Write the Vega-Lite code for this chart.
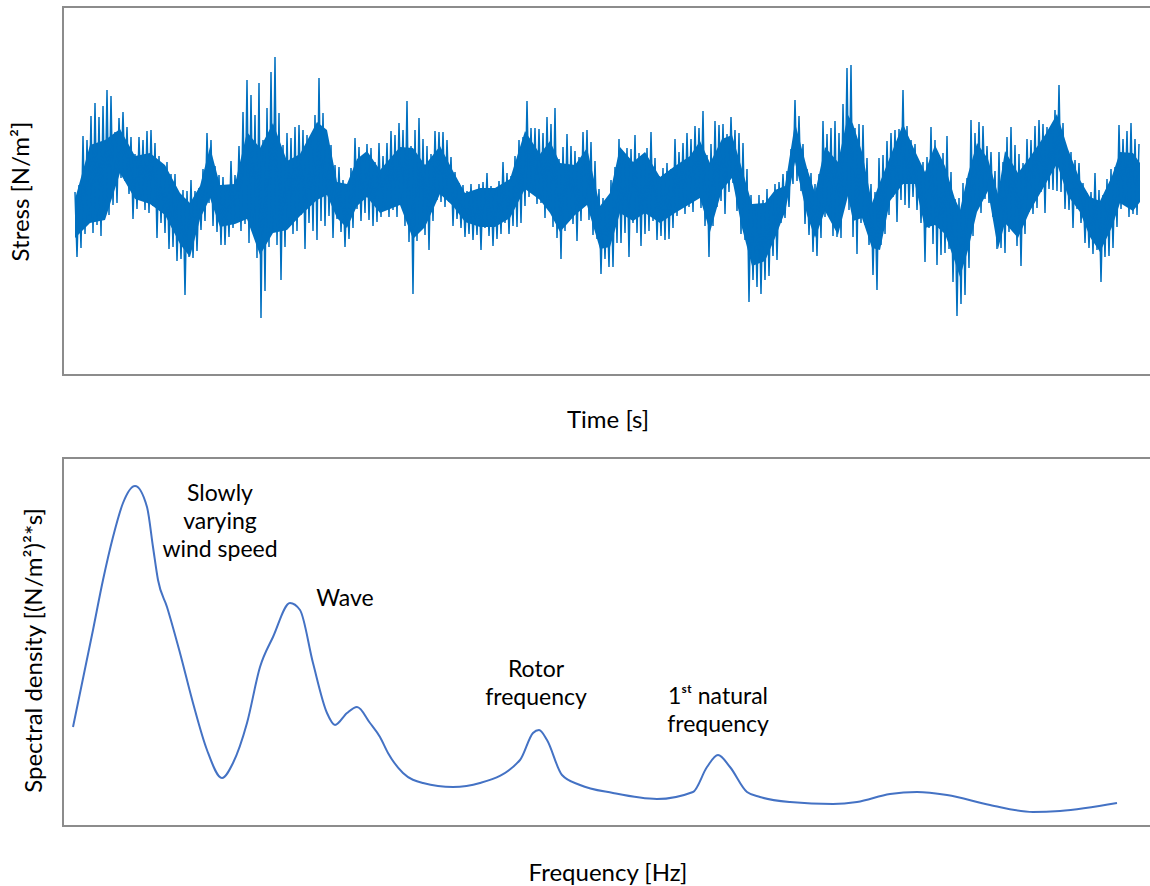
{
  "$schema": "https://vega.github.io/schema/vega-lite/v6.json",
  "padding": {"left": 8, "top": 6, "right": 0, "bottom": 0},
  "background": "white",
  "spacing": 24,
  "config": {
    "view": {"stroke": "#8c8c8c", "strokeWidth": 2},
    "axis": {"labels": false, "ticks": false, "domain": false, "grid": false, "titleFont": "Lato", "titleFontSize": 24, "titleFontWeight": "normal", "titleColor": "#000000"}
  },
  "datasets": {
    "stress": [
      {"t":12,"s":-2},{"t":14,"s":-67},{"t":16,"s":5},{"t":18,"s":-58},{"t":20,"s":54},{"t":22,"s":-44},{"t":24,"s":50},{"t":26,"s":-30},{"t":28,"s":74},{"t":30,"s":-43},
      {"t":32,"s":87},{"t":34,"s":-35},{"t":36,"s":73},{"t":38,"s":-46},{"t":40,"s":84},{"t":42,"s":-23},{"t":44,"s":100},{"t":46,"s":-25},{"t":48,"s":94},{"t":50,"s":-15},
      {"t":52,"s":58},{"t":54,"s":-13},{"t":56,"s":72},{"t":58,"s":12},{"t":60,"s":78},{"t":62,"s":9},{"t":64,"s":63},{"t":66,"s":-4},{"t":68,"s":53},{"t":70,"s":-29},
      {"t":72,"s":36},{"t":74,"s":-19},{"t":76,"s":53},{"t":78,"s":-10},{"t":80,"s":50},{"t":82,"s":-20},{"t":84,"s":59},{"t":86,"s":-23},{"t":88,"s":60},{"t":90,"s":-16},
      {"t":92,"s":47},{"t":94,"s":-48},{"t":96,"s":34},{"t":98,"s":-33},{"t":100,"s":24},{"t":102,"s":-43},{"t":104,"s":28},{"t":106,"s":-59},{"t":108,"s":16},{"t":110,"s":-57},
      {"t":112,"s":16},{"t":114,"s":-71},{"t":116,"s":-5},{"t":118,"s":-69},{"t":120,"s":0},{"t":122,"s":-105},{"t":124,"s":-1},{"t":126,"s":-67},{"t":128,"s":10},{"t":130,"s":-68},
      {"t":132,"s":-1},{"t":134,"s":-61},{"t":136,"s":2},{"t":138,"s":-40},{"t":140,"s":21},{"t":142,"s":-31},{"t":144,"s":57},{"t":146,"s":-13},{"t":148,"s":50},{"t":150,"s":-36},
      {"t":152,"s":24},{"t":154,"s":-42},{"t":156,"s":15},{"t":158,"s":-55},{"t":160,"s":13},{"t":162,"s":-55},{"t":164,"s":5},{"t":166,"s":-47},{"t":168,"s":29},{"t":170,"s":-38},
      {"t":172,"s":15},{"t":174,"s":-31},{"t":176,"s":44},{"t":178,"s":-41},{"t":180,"s":78},{"t":182,"s":-34},{"t":184,"s":110},{"t":186,"s":-53},{"t":188,"s":95},{"t":190,"s":-38},
      {"t":192,"s":75},{"t":194,"s":-68},{"t":196,"s":107},{"t":198,"s":-128},{"t":200,"s":50},{"t":202,"s":-101},{"t":204,"s":82},{"t":206,"s":-57},{"t":208,"s":118},{"t":210,"s":-40},
      {"t":212,"s":133},{"t":214,"s":-55},{"t":216,"s":77},{"t":218,"s":-90},{"t":220,"s":45},{"t":222,"s":-57},{"t":224,"s":57},{"t":226,"s":-37},{"t":228,"s":52},{"t":230,"s":-44},
      {"t":232,"s":63},{"t":234,"s":-41},{"t":236,"s":65},{"t":238,"s":-25},{"t":240,"s":60},{"t":242,"s":-59},{"t":244,"s":55},{"t":246,"s":-33},{"t":248,"s":53},{"t":250,"s":-41},
      {"t":252,"s":75},{"t":254,"s":-50},{"t":256,"s":112},{"t":258,"s":-31},{"t":260,"s":77},{"t":262,"s":-36},{"t":264,"s":55},{"t":266,"s":-26},{"t":268,"s":45},{"t":270,"s":-48},
      {"t":272,"s":25},{"t":274,"s":-29},{"t":276,"s":23},{"t":278,"s":-42},{"t":280,"s":10},{"t":282,"s":-57},{"t":284,"s":5},{"t":286,"s":-49},{"t":288,"s":22},{"t":290,"s":-38},
      {"t":292,"s":52},{"t":294,"s":-19},{"t":296,"s":43},{"t":298,"s":-31},{"t":300,"s":35},{"t":302,"s":-23},{"t":304,"s":46},{"t":306,"s":-30},{"t":308,"s":42},{"t":310,"s":-36},
      {"t":312,"s":28},{"t":314,"s":-32},{"t":316,"s":47},{"t":318,"s":-27},{"t":320,"s":34},{"t":322,"s":-19},{"t":324,"s":47},{"t":326,"s":-27},{"t":328,"s":59},{"t":330,"s":-20},
      {"t":332,"s":55},{"t":334,"s":-27},{"t":336,"s":67},{"t":338,"s":-13},{"t":340,"s":60},{"t":342,"s":-36},{"t":344,"s":89},{"t":346,"s":-52},{"t":348,"s":44},{"t":350,"s":-104},
      {"t":352,"s":60},{"t":354,"s":-51},{"t":356,"s":72},{"t":358,"s":-40},{"t":360,"s":51},{"t":362,"s":-45},{"t":364,"s":44},{"t":366,"s":-60},{"t":368,"s":36},{"t":370,"s":-31},
      {"t":372,"s":59},{"t":374,"s":-10},{"t":376,"s":58},{"t":378,"s":-12},{"t":380,"s":58},{"t":382,"s":-17},{"t":384,"s":50},{"t":386,"s":-12},{"t":388,"s":33},{"t":390,"s":-36},
      {"t":392,"s":18},{"t":394,"s":-29},{"t":396,"s":7},{"t":398,"s":-38},{"t":400,"s":5},{"t":402,"s":-47},{"t":404,"s":-1},{"t":406,"s":-44},{"t":408,"s":6},{"t":410,"s":-50},
      {"t":412,"s":-3},{"t":414,"s":-45},{"t":416,"s":6},{"t":418,"s":-60},{"t":420,"s":8},{"t":422,"s":-38},{"t":424,"s":17},{"t":426,"s":-46},{"t":428,"s":4},{"t":430,"s":-56},
      {"t":432,"s":1},{"t":434,"s":-49},{"t":436,"s":9},{"t":438,"s":-44},{"t":440,"s":28},{"t":442,"s":-33},{"t":444,"s":17},{"t":446,"s":-44},{"t":448,"s":14},{"t":450,"s":-36},
      {"t":452,"s":34},{"t":454,"s":-37},{"t":456,"s":50},{"t":458,"s":-33},{"t":460,"s":53},{"t":462,"s":-16},{"t":464,"s":89},{"t":466,"s":-7},{"t":468,"s":62},{"t":470,"s":-2},
      {"t":472,"s":62},{"t":474,"s":-14},{"t":476,"s":61},{"t":478,"s":-13},{"t":480,"s":57},{"t":482,"s":-28},{"t":484,"s":73},{"t":486,"s":-16},{"t":488,"s":66},{"t":490,"s":-37},
      {"t":492,"s":82},{"t":494,"s":-48},{"t":496,"s":31},{"t":498,"s":-69},{"t":500,"s":43},{"t":502,"s":-41},{"t":504,"s":56},{"t":506,"s":-31},{"t":508,"s":44},{"t":510,"s":-34},
      {"t":512,"s":39},{"t":514,"s":-51},{"t":516,"s":33},{"t":518,"s":-31},{"t":520,"s":58},{"t":522,"s":-16},{"t":524,"s":60},{"t":526,"s":-30},{"t":528,"s":48},{"t":530,"s":-45},
      {"t":532,"s":29},{"t":534,"s":-49},{"t":536,"s":1},{"t":538,"s":-84},{"t":540,"s":-8},{"t":542,"s":-69},{"t":544,"s":-9},{"t":546,"s":-77},{"t":548,"s":10},{"t":550,"s":-77},
      {"t":552,"s":23},{"t":554,"s":-53},{"t":556,"s":51},{"t":558,"s":-53},{"t":560,"s":35},{"t":562,"s":-43},{"t":564,"s":42},{"t":566,"s":-67},{"t":568,"s":41},{"t":570,"s":-33},
      {"t":572,"s":55},{"t":574,"s":-43},{"t":576,"s":37},{"t":578,"s":-56},{"t":580,"s":35},{"t":582,"s":-44},{"t":584,"s":42},{"t":586,"s":-41},{"t":588,"s":58},{"t":590,"s":-31},
      {"t":592,"s":32},{"t":594,"s":-50},{"t":596,"s":14},{"t":598,"s":-46},{"t":600,"s":22},{"t":602,"s":-50},{"t":604,"s":27},{"t":606,"s":-49},{"t":608,"s":21},{"t":610,"s":-38},
      {"t":612,"s":51},{"t":614,"s":-26},{"t":616,"s":38},{"t":618,"s":-17},{"t":620,"s":47},{"t":622,"s":-24},{"t":624,"s":57},{"t":626,"s":-17},{"t":628,"s":51},{"t":630,"s":-22},
      {"t":632,"s":64},{"t":634,"s":-5},{"t":636,"s":62},{"t":638,"s":-18},{"t":640,"s":79},{"t":642,"s":-36},{"t":644,"s":35},{"t":646,"s":-67},{"t":648,"s":46},{"t":650,"s":-36},
      {"t":652,"s":69},{"t":654,"s":-17},{"t":656,"s":65},{"t":658,"s":-11},{"t":660,"s":66},{"t":662,"s":-24},{"t":664,"s":56},{"t":666,"s":-2},{"t":668,"s":73},{"t":670,"s":7},
      {"t":672,"s":60},{"t":674,"s":-21},{"t":676,"s":57},{"t":678,"s":-44},{"t":680,"s":47},{"t":682,"s":-50},{"t":684,"s":21},{"t":686,"s":-112},{"t":688,"s":-5},{"t":690,"s":-90},
      {"t":692,"s":-17},{"t":694,"s":-97},{"t":696,"s":-5},{"t":698,"s":-104},{"t":700,"s":-10},{"t":702,"s":-90},{"t":704,"s":1},{"t":706,"s":-86},{"t":708,"s":-9},{"t":710,"s":-66},
      {"t":712,"s":6},{"t":714,"s":-70},{"t":716,"s":8},{"t":718,"s":-33},{"t":720,"s":16},{"t":722,"s":-28},{"t":724,"s":19},{"t":726,"s":-17},{"t":728,"s":41},{"t":730,"s":6},
      {"t":732,"s":90},{"t":734,"s":9},{"t":736,"s":74},{"t":738,"s":-1},{"t":740,"s":46},{"t":742,"s":-34},{"t":744,"s":21},{"t":746,"s":-45},{"t":748,"s":17},{"t":750,"s":-62},
      {"t":752,"s":6},{"t":754,"s":-66},{"t":756,"s":16},{"t":758,"s":-48},{"t":760,"s":69},{"t":762,"s":-27},{"t":764,"s":56},{"t":766,"s":-25},{"t":768,"s":62},{"t":770,"s":-46},
      {"t":772,"s":69},{"t":774,"s":-47},{"t":776,"s":57},{"t":778,"s":-48},{"t":780,"s":86},{"t":782,"s":-12},{"t":784,"s":122},{"t":786,"s":-20},{"t":788,"s":125},{"t":790,"s":-47},
      {"t":792,"s":62},{"t":794,"s":-64},{"t":796,"s":66},{"t":798,"s":-33},{"t":800,"s":65},{"t":802,"s":-35},{"t":804,"s":32},{"t":806,"s":-55},{"t":808,"s":6},{"t":810,"s":-85},
      {"t":812,"s":-2},{"t":814,"s":-100},{"t":816,"s":32},{"t":818,"s":-55},{"t":820,"s":35},{"t":822,"s":-44},{"t":824,"s":49},{"t":826,"s":-25},{"t":828,"s":57},{"t":830,"s":-7},
      {"t":832,"s":60},{"t":834,"s":-32},{"t":836,"s":61},{"t":838,"s":-10},{"t":840,"s":100},{"t":842,"s":-15},{"t":844,"s":64},{"t":846,"s":-18},{"t":848,"s":50},{"t":850,"s":-7},
      {"t":852,"s":46},{"t":854,"s":-20},{"t":856,"s":27},{"t":858,"s":-33},{"t":860,"s":28},{"t":862,"s":-72},{"t":864,"s":33},{"t":866,"s":-38},{"t":868,"s":63},{"t":870,"s":-54},
      {"t":872,"s":50},{"t":874,"s":-75},{"t":876,"s":35},{"t":878,"s":-65},{"t":880,"s":37},{"t":882,"s":-63},{"t":884,"s":54},{"t":886,"s":-59},{"t":888,"s":18},{"t":890,"s":-92},
      {"t":892,"s":-9},{"t":894,"s":-126},{"t":896,"s":-8},{"t":898,"s":-114},{"t":900,"s":7},{"t":902,"s":-105},{"t":904,"s":12},{"t":906,"s":-78},{"t":908,"s":70},{"t":910,"s":-46},
      {"t":912,"s":57},{"t":914,"s":-19},{"t":916,"s":68},{"t":918,"s":-23},{"t":920,"s":64},{"t":922,"s":-9},{"t":924,"s":44},{"t":926,"s":-13},{"t":928,"s":38},{"t":930,"s":-27},
      {"t":932,"s":19},{"t":934,"s":-59},{"t":936,"s":38},{"t":938,"s":-58},{"t":940,"s":28},{"t":942,"s":-63},{"t":944,"s":53},{"t":946,"s":-42},{"t":948,"s":63},{"t":950,"s":-41},
      {"t":952,"s":45},{"t":954,"s":-56},{"t":956,"s":36},{"t":958,"s":-76},{"t":960,"s":27},{"t":962,"s":-44},{"t":964,"s":51},{"t":966,"s":-22},{"t":968,"s":50},{"t":970,"s":-24},
      {"t":972,"s":64},{"t":974,"s":-18},{"t":976,"s":70},{"t":978,"s":-2},{"t":980,"s":66},{"t":982,"s":-23},{"t":984,"s":63},{"t":986,"s":1},{"t":988,"s":63},{"t":990,"s":0},
      {"t":992,"s":80},{"t":994,"s":-1},{"t":996,"s":105},{"t":998,"s":-2},{"t":1000,"s":67},{"t":1002,"s":-19},{"t":1004,"s":41},{"t":1006,"s":-20},{"t":1008,"s":38},{"t":1010,"s":-38},
      {"t":1012,"s":30},{"t":1014,"s":-19},{"t":1016,"s":27},{"t":1018,"s":-33},{"t":1020,"s":7},{"t":1022,"s":-53},{"t":1024,"s":-3},{"t":1026,"s":-58},{"t":1028,"s":-2},{"t":1030,"s":-64},
      {"t":1032,"s":17},{"t":1034,"s":-60},{"t":1036,"s":0},{"t":1038,"s":-92},{"t":1040,"s":-5},{"t":1042,"s":-67},{"t":1044,"s":11},{"t":1046,"s":-66},{"t":1048,"s":21},{"t":1050,"s":-58},
      {"t":1052,"s":23},{"t":1054,"s":-37},{"t":1056,"s":65},{"t":1058,"s":-19},{"t":1060,"s":51},{"t":1062,"s":-14},{"t":1064,"s":59},{"t":1066,"s":-27},{"t":1068,"s":67},{"t":1070,"s":-24},
      {"t":1072,"s":51},{"t":1074,"s":-25},{"t":1076,"s":46}
    ],
    "core": [
      {"t":12,"hi":-9,"lo":-48},{"t":27,"hi":45,"lo":-33},{"t":42,"hi":50,"lo":-30},{"t":57,"hi":61,"lo":17},{"t":72,"hi":34,"lo":-9},
      {"t":87,"hi":37,"lo":-14},{"t":102,"hi":25,"lo":-25},{"t":117,"hi":-3,"lo":-54},{"t":127,"hi":-13,"lo":-67},{"t":137,"hi":4,"lo":-29},
      {"t":147,"hi":43,"lo":-8},{"t":157,"hi":5,"lo":-37},{"t":172,"hi":6,"lo":-34},{"t":184,"hi":58,"lo":-29},{"t":197,"hi":42,"lo":-65},
      {"t":210,"hi":67,"lo":-43},{"t":224,"hi":29,"lo":-40},{"t":237,"hi":36,"lo":-26},{"t":254,"hi":68,"lo":-10},{"t":264,"hi":60,"lo":-5},
      {"t":274,"hi":8,"lo":-28},{"t":284,"hi":6,"lo":-38},{"t":294,"hi":31,"lo":-16},{"t":304,"hi":39,"lo":-7},{"t":317,"hi":20,"lo":-23},
      {"t":337,"hi":43,"lo":-15},{"t":350,"hi":42,"lo":-49},{"t":362,"hi":25,"lo":-37},{"t":377,"hi":44,"lo":-4},{"t":390,"hi":19,"lo":-16},
      {"t":402,"hi":-3,"lo":-32},{"t":417,"hi":2,"lo":-37},{"t":432,"hi":2,"lo":-37},{"t":447,"hi":11,"lo":-28},{"t":462,"hi":59,"lo":1},
      {"t":477,"hi":36,"lo":-10},{"t":487,"hi":49,"lo":-23},{"t":497,"hi":27,"lo":-42},{"t":512,"hi":25,"lo":-25},{"t":524,"hi":42,"lo":-15},
      {"t":537,"hi":-16,"lo":-59},{"t":547,"hi":-3,"lo":-57},{"t":557,"hi":43,"lo":-23},{"t":570,"hi":28,"lo":-31},{"t":582,"hi":38,"lo":-23},
      {"t":597,"hi":13,"lo":-33},{"t":612,"hi":24,"lo":-23},{"t":627,"hi":34,"lo":-14},{"t":637,"hi":49,"lo":-8},{"t":647,"hi":27,"lo":-42},
      {"t":659,"hi":51,"lo":0},{"t":669,"hi":55,"lo":12},{"t":679,"hi":21,"lo":-38},{"t":689,"hi":-14,"lo":-76},{"t":702,"hi":-13,"lo":-71},
      {"t":712,"hi":0,"lo":-48},{"t":722,"hi":4,"lo":-22},{"t":732,"hi":67,"lo":28},{"t":744,"hi":22,"lo":-25},{"t":752,"hi":-3,"lo":-48},
      {"t":762,"hi":43,"lo":-21},{"t":775,"hi":28,"lo":-45},{"t":785,"hi":75,"lo":-6},{"t":790,"hi":66,"lo":-31},{"t":799,"hi":38,"lo":-28},
      {"t":809,"hi":-13,"lo":-58},{"t":817,"hi":8,"lo":-60},{"t":827,"hi":33,"lo":-11},{"t":840,"hi":66,"lo":6},{"t":852,"hi":39,"lo":6},
      {"t":862,"hi":18,"lo":-38},{"t":872,"hi":45,"lo":-35},{"t":882,"hi":24,"lo":-44},{"t":892,"hi":-9,"lo":-72},{"t":897,"hi":-20,"lo":-87},
      {"t":905,"hi":16,"lo":-60},{"t":914,"hi":47,"lo":-22},{"t":925,"hi":31,"lo":-1},{"t":935,"hi":-4,"lo":-59},{"t":942,"hi":39,"lo":-33},
      {"t":955,"hi":17,"lo":-48},{"t":967,"hi":33,"lo":-21},{"t":982,"hi":55,"lo":5},{"t":994,"hi":76,"lo":26},{"t":1005,"hi":41,"lo":-6},
      {"t":1017,"hi":10,"lo":-22},{"t":1027,"hi":-7,"lo":-47},{"t":1037,"hi":-11,"lo":-62},{"t":1049,"hi":14,"lo":-37},{"t":1057,"hi":38,"lo":-13},
      {"t":1070,"hi":37,"lo":-21},{"t":1077,"hi":27,"lo":-12}
    ],
    "psd": [
      {"f":10,"d":99},{"f":30,"d":196},{"f":40,"d":246},{"f":50,"d":289},{"f":60,"d":323},{"f":72,"d":340},{"f":84,"d":319},{"f":90,"d":279},
      {"f":95,"d":246},{"f":104,"d":219},{"f":117,"d":173},{"f":130,"d":123},{"f":144,"d":76},{"f":159,"d":48},{"f":170,"d":63},{"f":184,"d":103},
      {"f":197,"d":159},{"f":210,"d":189},{"f":227,"d":223},{"f":237,"d":216},{"f":250,"d":163},{"f":264,"d":113},{"f":272,"d":101},{"f":284,"d":113},
      {"f":294,"d":119},{"f":307,"d":103},{"f":317,"d":89},{"f":325,"d":73},{"f":340,"d":53},{"f":360,"d":43},{"f":390,"d":39},{"f":417,"d":43},
      {"f":457,"d":66},{"f":470,"d":93},{"f":476,"d":96},{"f":484,"d":86},{"f":499,"d":51},{"f":517,"d":41},{"f":550,"d":33},{"f":594,"d":27},
      {"f":630,"d":34},{"f":644,"d":59},{"f":655,"d":71},{"f":667,"d":59},{"f":684,"d":34},{"f":697,"d":29},{"f":727,"d":24},{"f":770,"d":22},
      {"f":794,"d":24},{"f":827,"d":32},{"f":854,"d":34},{"f":884,"d":31},{"f":927,"d":21},{"f":970,"d":14},{"f":997,"d":15},{"f":1054,"d":23}
    ],
    "notes": [
      {"f":157,"d":332,"label":"Slowly\nvarying\nwind speed"},
      {"f":282,"d":227,"label":"Wave"},
      {"f":473,"d":156,"label":"Rotor\nfrequency"},
      {"f":655,"d":129,"label":"1ˢᵗ natural\nfrequency"}
    ]
  },
  "vconcat": [
    {
      "width": 1089,
      "height": 368,
      "layer": [
        {
          "data": {"name": "core"},
          "mark": {"type": "area", "color": "#0070C0"},
          "encoding": {
            "x": {"field": "t", "type": "quantitative", "scale": {"domain": [0, 1089], "nice": false, "zero": false}, "axis": {"title": "Time [s]", "titlePadding": 33}},
            "y": {"field": "hi", "type": "quantitative", "scale": {"domain": [-185, 183], "nice": false, "zero": false}, "axis": {"title": "Stress [N/m²]", "titlePadding": 30}},
            "y2": {"field": "lo"}
          }
        },
        {
          "data": {"name": "stress"},
          "mark": {"type": "line", "color": "#0070C0", "strokeWidth": 1.5},
          "encoding": {
            "x": {"field": "t", "type": "quantitative"},
            "y": {"field": "s", "type": "quantitative"}
          }
        }
      ]
    },
    {
      "width": 1089,
      "height": 368,
      "layer": [
        {
          "data": {"name": "psd"},
          "mark": {"type": "line", "color": "#4472C4", "strokeWidth": 2, "interpolate": "monotone"},
          "encoding": {
            "x": {"field": "f", "type": "quantitative", "scale": {"domain": [0, 1089], "nice": false, "zero": false}, "axis": {"title": "Frequency [Hz]", "titlePadding": 35}},
            "y": {"field": "d", "type": "quantitative", "scale": {"domain": [0, 368], "nice": false, "zero": false}, "axis": {"title": "Spectral density [(N/m²)²*s]", "titlePadding": 17, "titleY": 192}}
          }
        },
        {
          "data": {"name": "notes"},
          "mark": {"type": "text", "font": "Lato", "fontSize": 23, "lineBreak": "\n", "lineHeight": 28, "align": "center", "baseline": "middle", "color": "#000000"},
          "encoding": {
            "x": {"field": "f", "type": "quantitative"},
            "y": {"field": "d", "type": "quantitative"},
            "text": {"field": "label"}
          }
        }
      ]
    }
  ]
}
